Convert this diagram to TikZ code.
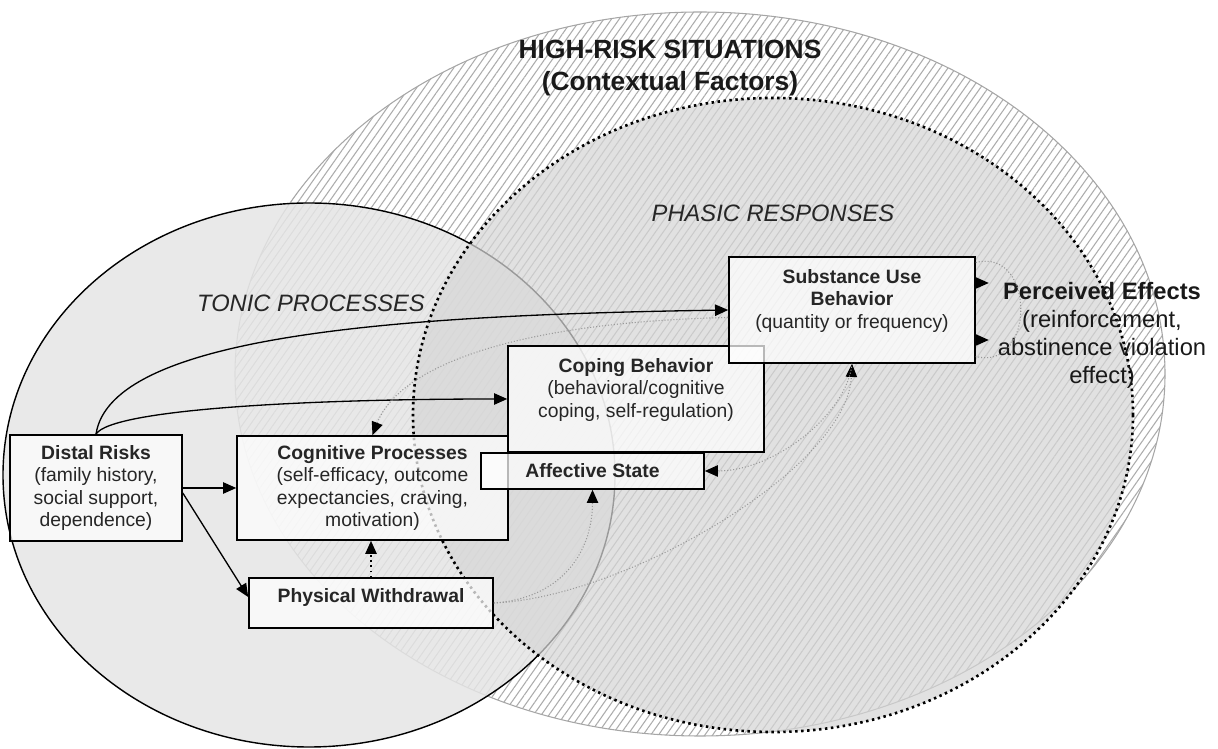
\documentclass[tikz,border=0pt]{standalone}
\usepackage{fontspec}
\setmainfont{Liberation Sans}
\usetikzlibrary{positioning,backgrounds,arrows.meta,patterns.meta}

\tikzset{
  box/.style={draw, line width=0.9pt, fill=white, fill opacity=0.72, text opacity=1,
    align=center, inner sep=2pt, text=black!85,
    font=\fontsize{11}{12.6}\selectfont},
  causal/.style={->, line width=0.75pt},
  fb/.style={-{Triangle[length=7.5pt,width=6.5pt,color=black]}, draw=gray!80,
    line width=0.6pt, dash pattern=on 0.6pt off 1.1pt},
  heading/.style={font=\fontsize{13.5}{16}\selectfont\itshape, text=black!85},
}

\begin{document}
\begin{tikzpicture}[>={Triangle[length=7.5pt,width=6.5pt]}]
  \useasboundingbox (0,0) rectangle (24.36,14.98);

  % high-risk situations
  \fill[white] (14.0,7.5) ellipse (9.3 and 7.24);
  \fill[pattern={Lines[angle=55,distance=3.6pt,line width=0.6pt]}, pattern color=gray!65]
    (14.0,7.5) ellipse (9.3 and 7.24);
  \draw[gray!70, line width=0.6pt] (14.0,7.5) ellipse (9.3 and 7.24);

  % tonic processes
  \filldraw[fill=gray!20, fill opacity=0.85, line width=0.8pt] (6.18,5.48) ellipse (6.12 and 5.44);

  % phasic responses
  \fill[gray!32, fill opacity=0.72] (15.46,6.68) ellipse (7.2 and 6.34);
  \draw[line width=1.5pt, dash pattern=on 1.4pt off 2pt] (15.46,6.68) ellipse (7.2 and 6.34);

  \node[font=\fontsize{15}{18.2}\selectfont\bfseries, align=center, text=black!90] (hrs) at (13.4,13.62)
    {HIGH-RISK SITUATIONS\\(Contextual Factors)};
  \node[heading] (phasic) at (15.46,10.72) {PHASIC RESPONSES};
  \node[heading] (tonic) at (6.22,8.92) {TONIC PROCESSES};

  \node[box, minimum width=3.44cm, minimum height=2.12cm] (distal) at (1.92,5.22)
    {\textbf{Distal Risks}\\(family history,\\social support,\\dependence)};
  \node[box, minimum width=5.42cm, minimum height=2.08cm] (cog) at (7.45,5.22)
    {\textbf{Cognitive Processes}\\(self-efficacy, outcome\\expectancies, craving,\\motivation)};
  \node[box, minimum width=4.88cm, minimum height=1.0cm] (pw) at (7.42,2.92)
    {\textbf{Physical Withdrawal}\\[-4pt]~};
  \node[box, minimum width=5.12cm, minimum height=2.12cm] (cope) at (12.72,7.0)
    {\textbf{Coping Behavior}\\(behavioral/cognitive\\coping, self-regulation)\\~};
  \node[box, minimum width=4.92cm, minimum height=2.12cm] (sub) at (17.04,8.78)
    {\textbf{Substance Use}\\\textbf{Behavior}\\(quantity or frequency)\\~};
  \node[box, minimum width=4.46cm, minimum height=0.72cm] (aff) at (11.85,5.56)
    {\textbf{Affective State}};
  \node[font=\fontsize{13.5}{15.9}\selectfont, align=center, text=black!90] (effects) at (22.04,8.28)
    {\textbf{Perceived Effects}\\(reinforcement,\\abstinence violation\\effect)};

  % solid paths
  \draw[causal] (distal.north) .. controls +(0.3,2.0) and +(-6.5,-0.1) .. (sub.west);
  \draw[causal] (distal.north) .. controls +(0.3,0.5) and +(-4,0) .. (cope.west);
  \draw[causal] (distal.east) -- (cog.west);
  \draw[causal] ([yshift=-1mm]distal.east) -- ([yshift=1.2mm]pw.west);

  % dotted paths
  \draw[->, line width=0.9pt, dotted] (pw.north) -- (pw.north |- cog.south);
  \draw[fb] (pw.east) .. controls +(1.4,0.1) and +(0,-1.2) .. (aff.south);
  \draw[fb] (pw.east) .. controls +(2.6,0.1) and +(-0.1,-2.1) .. (sub.south);
  \draw[fb] (sub.south) .. controls +(-0.1,-1.0) and +(1.4,0) .. (aff.east);
  \draw[fb] ([yshift=-1.5mm]sub.west) .. controls +(-4.5,-0.1) and +(0.5,1.3) .. (cog.north);

  % loop to perceived effects
  \coordinate (effin) at ([xshift=2.6mm,yshift=5.4mm]sub.east);
  \coordinate (effout) at ([xshift=2.6mm,yshift=-6mm]sub.east);
  \draw[fb, -] ([yshift=9.5mm]sub.east) .. controls +(1.2,0.3) and +(1.2,-0.3) .. ([yshift=-9.3mm]sub.east);
  \draw[causal] ([yshift=5.4mm]sub.east) -- (effin);
  \draw[causal] ([yshift=-6mm]sub.east) -- (effout);
\end{tikzpicture}
\end{document}
